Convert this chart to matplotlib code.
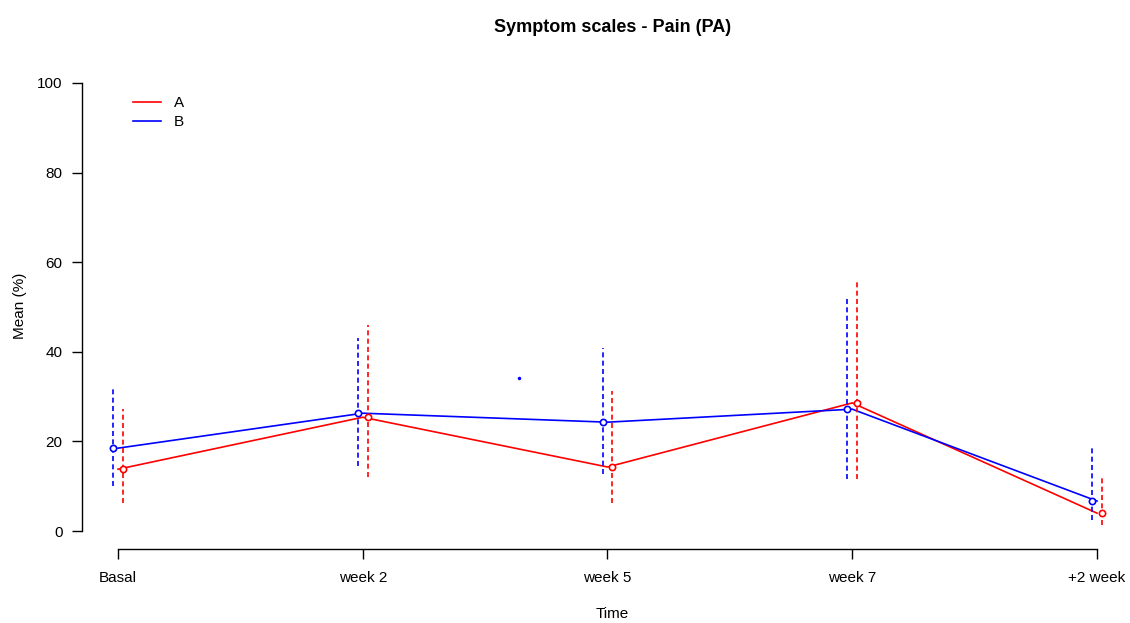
import matplotlib
matplotlib.use("Agg")
import matplotlib.pyplot as plt

plt.rcParams['font.family'] = ['Liberation Sans', 'DejaVu Sans']

# Time points and group summaries (mean, lower and upper CI)
times = ['Basal', 'week 2', 'week 5', 'week 7', '+2 week']

mean_a = [13.8, 25.4, 14.3, 28.6, 4.0]
low_a = [6.3, 12.0, 6.3, 11.6, 1.3]
high_a = [27.2, 46.0, 31.2, 56.0, 11.8]

mean_b = [18.5, 26.3, 24.3, 27.2, 6.7]
low_b = [10.0, 14.5, 12.7, 11.6, 2.5]
high_b = [32.1, 43.1, 40.8, 52.2, 18.8]

# lone point between week 2 and week 5
extra_x = [2.64]
extra_y = [34.2]

yticks = [0, 20, 40, 60, 80, 100]

fig = plt.figure(figsize=(11.3, 6.23), dpi=100)
W, H = 1130, 623
ax = fig.add_axes([82 / W, 1 - 549 / H, (1120 - 82) / W, (549 - 65) / H])

x = list(range(1, len(times) + 1))
off = 0.02

for means, lows, highs, col, sign, lab in [
    (mean_a, low_a, high_a, 'red', 1, 'A'),
    (mean_b, low_b, high_b, 'blue', -1, 'B'),
]:
    ax.plot(x, means, color=col, lw=1.2, label=lab, zorder=2)
    xs = [v + sign * off for v in x]
    ax.vlines(xs, lows, highs, colors=col, lw=1.2, linestyles=(0, (3, 2)), zorder=3)
    ax.plot(xs, means, linestyle='none', marker='o', ms=4.5, mfc='white',
            mec=col, mew=1.2, zorder=4)

ax.plot(extra_x, extra_y, linestyle='none', marker='.', ms=3, color='blue')

ax.set_xlim(1 - (118 - 82) / 244.75, 5 + (1120 - 1097) / 244.75)
ax.set_ylim(-4, 104)

for s in ['top', 'right']:
    ax.spines[s].set_visible(False)
ax.spines['left'].set_bounds(0, 100)
ax.spines['bottom'].set_bounds(1, 5)
for s in ['left', 'bottom']:
    ax.spines[s].set_linewidth(1.0)

ax.set_xticks(x)
ax.set_xticklabels(times)
ax.set_yticks(yticks)
ax.tick_params(axis='both', length=7, width=1.0, labelsize=11)
ax.tick_params(axis='x', pad=9)
ax.tick_params(axis='y', pad=7)

ax.set_xlabel('Time', fontsize=11)
ax.xaxis.set_label_coords((612 - 82) / 1038, (549 - 607) / 484)
ax.set_ylabel('Mean (%)', fontsize=11)
ax.yaxis.set_label_coords((27 - 82) / 1038, (549 - 306) / 484)

fig.text(613 / W, 1 - 28 / H, 'Symptom scales - Pain (PA)', ha='center', va='center',
         fontsize=13, fontweight='bold')

ax.legend(loc='upper left', bbox_to_anchor=((133 - 82) / 1038, (549 - 96) / 484),
          frameon=False, fontsize=11, borderaxespad=0, borderpad=0,
          handlelength=1.8, handletextpad=0.85, labelspacing=0.33)

fig.savefig('out.png', dpi=100)
